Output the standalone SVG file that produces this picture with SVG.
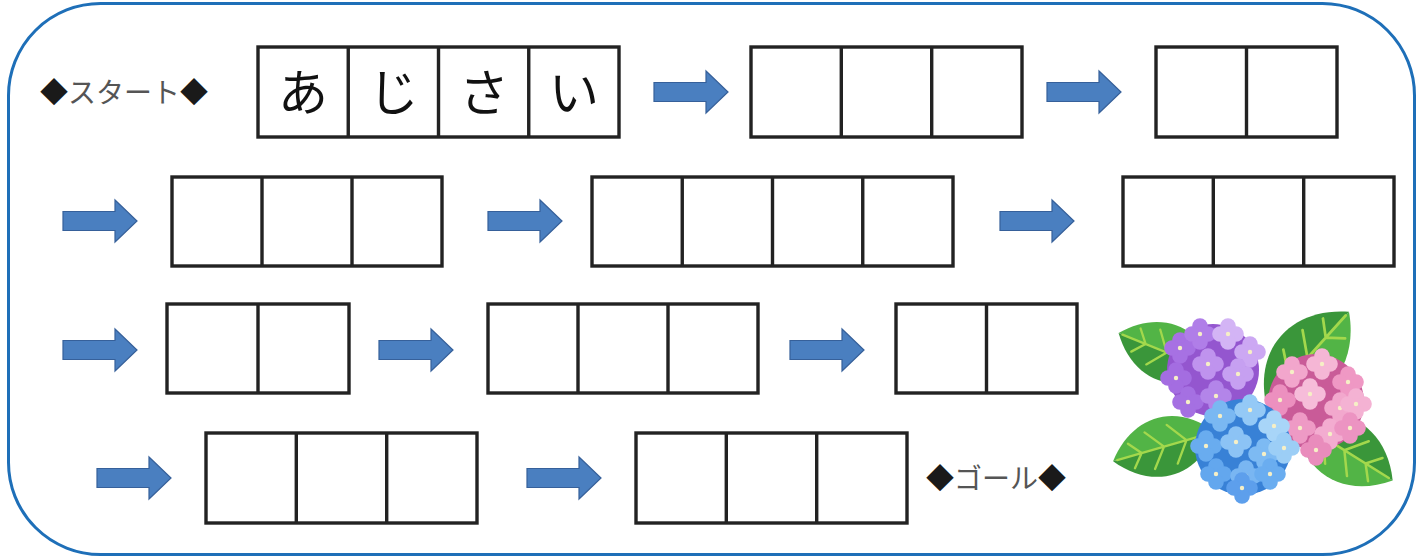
<svg xmlns="http://www.w3.org/2000/svg" xmlns:xlink="http://www.w3.org/1999/xlink" width="1420" height="560" viewBox="0 0 1420 560">
  <style>
    .frame { fill: #ffffff; stroke: #1e6fb8; stroke-width: 3; }
    .cell { fill: #ffffff; stroke: #222222; stroke-width: 3.4; }
    .div { stroke: #222222; stroke-width: 3.4; }
    .arrow { fill: #4a7fc0; stroke: #36609a; stroke-width: 1.2; }
    .label { font-family: "Noto Sans CJK JP", "Noto Sans", sans-serif; font-size: 28px; fill: #555555; }
    .dia { fill: #1a1a1a; }
    .kana { font-family: "Noto Sans CJK JP", "Noto Sans", sans-serif; font-size: 50px; font-weight: 400; fill: #111111; text-anchor: middle; }
    .leafDark { fill: #3a963a; }
    .leafLight { fill: #52b446; }
    .vein { stroke: #a3d84c; stroke-width: 2.2; fill: none; stroke-linecap: round; }
    .eye { fill: #f6efc6; }
  </style>
  <defs>
    <!-- block arrow, origin at the tail centre -->
    <path id="arrowShape" class="arrow" d="M0,-9.5 H52 V-21 L74,0 L52,21 V9.5 H0 Z"/>
    <!-- leaf lying along the x axis from base (0,0) to tip (100,0) -->
    <g id="leaf">
      <path class="leafLight" d="M0,0 C28,38 72,36 100,0 Z"/>
      <path class="leafDark" d="M0,0 C28,-38 72,-36 100,0 Z"/>
      <path class="vein" d="M4,0 L96,0 M28,0 L42,-19 M50,0 L64,-18 M72,0 L82,-12 M28,0 L42,19 M50,0 L64,18 M72,0 L82,12"/>
    </g>
    <!-- four-petal floret, coloured through currentColor -->
    <g id="floret">
      <circle cx="0" cy="-8" r="7.8" fill="currentColor"/>
      <circle cx="8" cy="0" r="7.8" fill="currentColor"/>
      <circle cx="0" cy="8" r="7.8" fill="currentColor"/>
      <circle cx="-8" cy="0" r="7.8" fill="currentColor"/>
      <circle class="eye" cx="0" cy="0" r="2.2"/>
    </g>
  </defs>

  <rect width="1420" height="560" fill="#ffffff"/>
  <rect class="frame" x="8.5" y="3.5" width="1406" height="551" rx="92" ry="92"/>

  <!-- start / goal labels -->
  <g id="start">
    <text class="label" x="40" y="103"><tspan class="dia">◆</tspan>スタート<tspan class="dia">◆</tspan></text>
  </g>
  <g id="goal">
    <text class="label" x="926" y="489"><tspan class="dia">◆</tspan>ゴール<tspan class="dia">◆</tspan></text>
  </g>

  <!-- word boxes -->
  <g id="box1">
    <rect class="cell" x="258" y="47" width="361" height="90"/>
    <path class="div" d="M348.25,47 V137 M438.5,47 V137 M528.75,47 V137"/>
    <text class="kana" x="303" y="111">あ</text>
    <text class="kana" x="393.5" y="111">じ</text>
    <text class="kana" x="484" y="111">さ</text>
    <text class="kana" x="574" y="111">い</text>
  </g>
  <g id="box2">
    <rect class="cell" x="751" y="47" width="271" height="90"/>
    <path class="div" d="M841.3,47 V137 M931.7,47 V137"/>
  </g>
  <g id="box3">
    <rect class="cell" x="1156" y="47" width="181" height="90"/>
    <path class="div" d="M1246.5,47 V137"/>
  </g>
  <g id="box4">
    <rect class="cell" x="172" y="177" width="270" height="89"/>
    <path class="div" d="M262,177 V266 M352,177 V266"/>
  </g>
  <g id="box5">
    <rect class="cell" x="592" y="177" width="361" height="89"/>
    <path class="div" d="M682.25,177 V266 M772.5,177 V266 M862.75,177 V266"/>
  </g>
  <g id="box6">
    <rect class="cell" x="1123" y="177" width="271" height="89"/>
    <path class="div" d="M1213.3,177 V266 M1303.7,177 V266"/>
  </g>
  <g id="box7">
    <rect class="cell" x="167" y="304" width="182" height="89"/>
    <path class="div" d="M258,304 V393"/>
  </g>
  <g id="box8">
    <rect class="cell" x="488" y="304" width="270" height="89"/>
    <path class="div" d="M578,304 V393 M668,304 V393"/>
  </g>
  <g id="box9">
    <rect class="cell" x="896" y="304" width="181" height="89"/>
    <path class="div" d="M986.5,304 V393"/>
  </g>
  <g id="box10">
    <rect class="cell" x="206" y="433" width="271" height="90"/>
    <path class="div" d="M296.3,433 V523 M386.7,433 V523"/>
  </g>
  <g id="box11">
    <rect class="cell" x="636" y="433" width="271" height="90"/>
    <path class="div" d="M726.3,433 V523 M816.7,433 V523"/>
  </g>

  <!-- connectors -->
  <g id="connectors">
    <use xlink:href="#arrowShape" x="654" y="92"/>
    <use xlink:href="#arrowShape" x="1047" y="92"/>
    <use xlink:href="#arrowShape" x="63" y="221"/>
    <use xlink:href="#arrowShape" x="488" y="221"/>
    <use xlink:href="#arrowShape" x="1000" y="221"/>
    <use xlink:href="#arrowShape" x="63" y="350"/>
    <use xlink:href="#arrowShape" x="379" y="350"/>
    <use xlink:href="#arrowShape" x="790" y="350"/>
    <use xlink:href="#arrowShape" x="97" y="478"/>
    <use xlink:href="#arrowShape" x="527" y="478"/>
  </g>

  <!-- hydrangea illustration -->
  <g id="hydrangea">
    <use xlink:href="#leaf" transform="translate(1215,372) rotate(202) scale(1.04)"/>
    <use xlink:href="#leaf" transform="translate(1266,404) rotate(-48) scale(1.24)"/>
    <use xlink:href="#leaf" transform="translate(1215,432) rotate(164) scale(1.06)"/>
    <use xlink:href="#leaf" transform="translate(1296,420) rotate(32) scale(1.14)"/>

    <!-- purple cluster -->
    <g>
      <circle cx="1213" cy="370" r="46" fill="#9456cf"/>
      <use xlink:href="#floret" x="1180" y="348" color="#a771e3"/>
      <use xlink:href="#floret" x="1200" y="334" color="#b07ee8"/>
      <use xlink:href="#floret" x="1228" y="334" color="#d3b4f5"/>
      <use xlink:href="#floret" x="1250" y="352" color="#cca8f3"/>
      <use xlink:href="#floret" x="1176" y="378" color="#a46de1"/>
      <use xlink:href="#floret" x="1208" y="364" color="#bf93ee"/>
      <use xlink:href="#floret" x="1238" y="374" color="#c6a0f1"/>
      <use xlink:href="#floret" x="1188" y="402" color="#a570e2"/>
      <use xlink:href="#floret" x="1216" y="396" color="#b385e9"/>
    </g>

    <!-- pink cluster -->
    <g>
      <circle cx="1316" cy="402" r="48" fill="#c95b98"/>
      <use xlink:href="#floret" x="1292" y="372" color="#f2a6cc"/>
      <use xlink:href="#floret" x="1322" y="364" color="#f5b6d5"/>
      <use xlink:href="#floret" x="1348" y="382" color="#ef98c4"/>
      <use xlink:href="#floret" x="1280" y="400" color="#ec90bf"/>
      <use xlink:href="#floret" x="1310" y="394" color="#f6bcd9"/>
      <use xlink:href="#floret" x="1340" y="408" color="#f2a8cd"/>
      <use xlink:href="#floret" x="1356" y="404" color="#f4b2d3"/>
      <use xlink:href="#floret" x="1300" y="428" color="#ee9ac5"/>
      <use xlink:href="#floret" x="1330" y="434" color="#f3acd0"/>
      <use xlink:href="#floret" x="1350" y="428" color="#ec94c2"/>
      <use xlink:href="#floret" x="1316" y="450" color="#e98cbc"/>
    </g>

    <!-- blue cluster -->
    <g>
      <circle cx="1243" cy="447" r="48" fill="#3881d6"/>
      <use xlink:href="#floret" x="1220" y="416" color="#7ab8f2"/>
      <use xlink:href="#floret" x="1250" y="410" color="#94c9f6"/>
      <use xlink:href="#floret" x="1274" y="426" color="#a8d5f8"/>
      <use xlink:href="#floret" x="1206" y="446" color="#69acef"/>
      <use xlink:href="#floret" x="1236" y="442" color="#8cc3f5"/>
      <use xlink:href="#floret" x="1264" y="454" color="#7dbaf3"/>
      <use xlink:href="#floret" x="1284" y="448" color="#9ccef6"/>
      <use xlink:href="#floret" x="1216" y="474" color="#63a7ee"/>
      <use xlink:href="#floret" x="1246" y="476" color="#79b6f2"/>
      <use xlink:href="#floret" x="1270" y="474" color="#6aadf0"/>
      <use xlink:href="#floret" x="1242" y="488" color="#5d9fec"/>
    </g>
  </g>
</svg>
